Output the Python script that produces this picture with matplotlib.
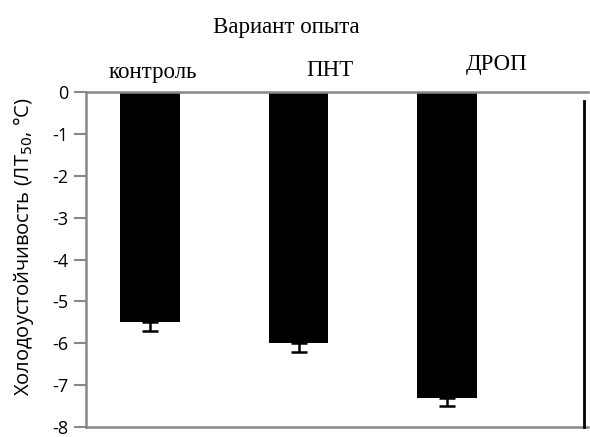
import matplotlib
matplotlib.use("Agg")
import matplotlib.pyplot as plt
import numpy as np

categories = ["контроль", "ПНТ", "ДРОП"]
values = [-5.5, -6.0, -7.3]
errors = [0.2, 0.2, 0.2]
yticks = [0, -1, -2, -3, -4, -5, -6, -7, -8]

fig = plt.figure(figsize=(5.9, 4.37), dpi=100)
ax = fig.add_axes([0.146, 0.023, 0.851, 0.766])

x = np.arange(len(categories))
ax.bar(x, values, width=0.4, color="black", zorder=2)
ax.errorbar(x, values, yerr=[errors, [0] * len(errors)], fmt="none",
            ecolor="black", elinewidth=1.8, capsize=6, capthick=1.8, zorder=3)

ax.set_xlim(-0.43, 2.95)
ax.set_ylim(-8, 0)
ax.set_yticks(yticks)
ax.set_yticklabels([str(t) for t in yticks], family="Open Sans", fontsize=13)
ax.set_xticks([])
for s in ["left", "top", "bottom"]:
    ax.spines[s].set_color("#888888")
    ax.spines[s].set_linewidth(1.8)
ax.spines["right"].set_visible(False)
ax.tick_params(axis="y", color="#888888", width=1.5, length=9, pad=4)

# extra black vertical line on right
ax.plot([2.92, 2.92], [-0.2, -8], color="black", lw=2, clip_on=False, zorder=4)

ax.set_ylabel("Холодоустойчивость (ЛТ$_{50}$, °С)", family="Open Sans",
              fontsize=14.5)
ax.yaxis.set_label_coords(-0.1, 0.54)

# category labels above the axes
label_dx = [0.02, 0.21, 0.33]
label_dy = [1.06, 1.066, 1.084]
for i, c in enumerate(categories):
    ax.text(x[i] + label_dx[i], label_dy[i], c, transform=ax.get_xaxis_transform(),
            ha="center", va="center", family="Liberation Serif", fontsize=16.5)

fig.text(0.485, 0.938, "Вариант опыта", ha="center", va="center",
         family="Liberation Serif", fontsize=16.5)

fig.savefig("out.png", dpi=100)
